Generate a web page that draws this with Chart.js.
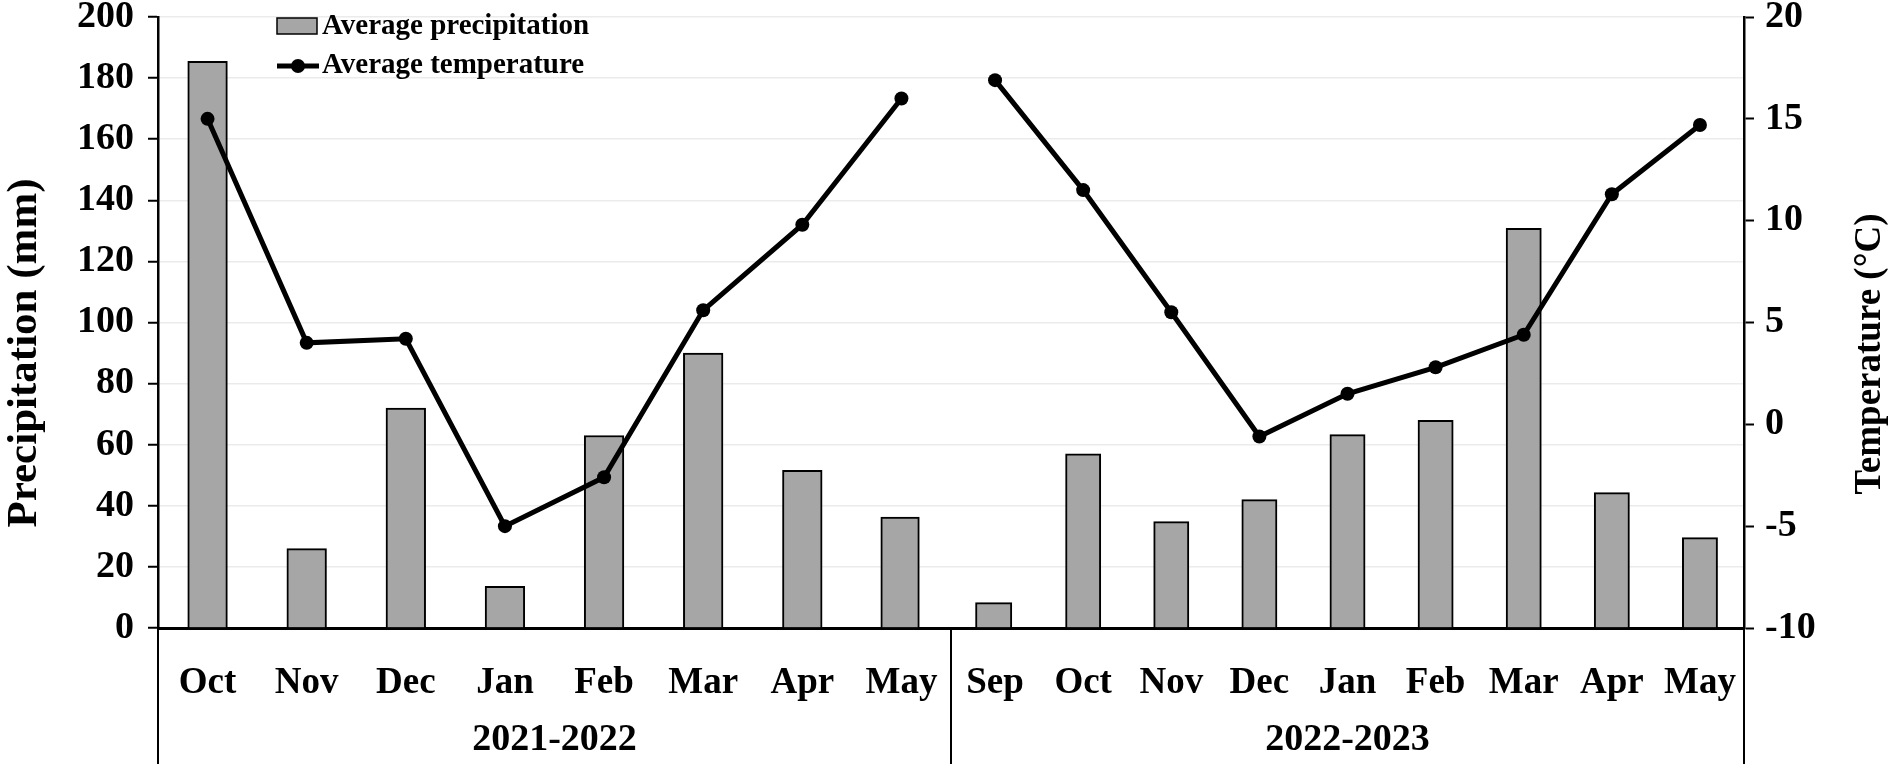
<!DOCTYPE html>
<html>
<head>
  <meta charset="utf-8">
  <script src="https://cdn.jsdelivr.net/npm/chart.js"></script>
  <style>
    html, body { margin: 0; padding: 0; background: #ffffff; overflow: hidden; }
    #wrap { width: 1890px; height: 764px; position: relative; }
  </style>
</head>
<body>
  <div id="wrap"><canvas id="climateChart"></canvas></div>

  <script>
    // data
    const seasons = ['2021-2022', '2022-2023'];
    const months1 = ['Oct', 'Nov', 'Dec', 'Jan', 'Feb', 'Mar', 'Apr', 'May'];
    const months2 = ['Sep', 'Oct', 'Nov', 'Dec', 'Jan', 'Feb', 'Mar', 'Apr', 'May'];
    const precip1 = [185.5, 26, 72, 13.6, 63, 90, 51.6, 36.3];
    const precip2 = [8.3, 57, 34.8, 42, 63.3, 68, 130.8, 44.3, 29.6];
    const temp1 = [15.0, 4.0, 4.2, -5.0, -2.6, 5.6, 9.8, 16.0];
    const temp2 = [16.9, 11.5, 5.5, -0.6, 1.5, 2.8, 4.4, 11.3, 14.7];
    const precipTicks = [0, 20, 40, 60, 80, 100, 120, 140, 160, 180, 200];
    const tempTicks = [-10, -5, 0, 5, 10, 15, 20];

    const FONT = "'Liberation Serif', 'Times New Roman', serif";
    const groups = [months1, months2];

    // each season takes one unit of the x axis, its months spread evenly inside
    const xPos = (g, i) => g + (i + 0.5) / groups[g].length;
    const monthLabels = months1.concat(months2);
    const monthX = months1.map((m, i) => xPos(0, i)).concat(months2.map((m, i) => xPos(1, i)));

    const pts = (g, vals) => vals.map((v, i) => ({ x: xPos(g, i), y: v }));

    const extras = {
      id: 'extras',
      afterDraw(chart) {
        const ctx = chart.ctx;
        const area = chart.chartArea;
        const xs = chart.scales.x;
        const H = chart.height;
        ctx.save();

        // season separators and labels under the axis
        ctx.strokeStyle = '#000';
        ctx.lineWidth = 2;
        for (let g = 0; g <= seasons.length; g++) {
          const px = Math.round(xs.getPixelForValue(g));
          ctx.beginPath();
          ctx.moveTo(px, area.bottom);
          ctx.lineTo(px, H);
          ctx.stroke();
        }
        ctx.fillStyle = '#000';
        ctx.font = 'bold 38px ' + FONT;
        ctx.textAlign = 'center';
        ctx.textBaseline = 'middle';
        seasons.forEach((s, g) => {
          ctx.fillText(s, xs.getPixelForValue(g + 0.5), 740);
        });

        // axis titles
        ctx.save();
        ctx.font = 'bold 43px ' + FONT;
        ctx.translate(25, 353);
        ctx.rotate(-Math.PI / 2);
        ctx.fillText('Precipitation (mm)', 0, 0);
        ctx.restore();
        ctx.save();
        ctx.font = 'bold 37px ' + FONT;
        ctx.translate(1870, 354);
        ctx.rotate(-Math.PI / 2);
        ctx.fillText('Temperature (\u00B0C)', 0, 0);
        ctx.restore();

        // legend inside the plot
        const lx = area.left + 119;
        ctx.fillStyle = '#a6a6a6';
        ctx.fillRect(lx, 18, 40, 16);
        ctx.lineWidth = 1.5;
        ctx.strokeRect(lx, 18, 40, 16);
        ctx.lineWidth = 5;
        ctx.beginPath();
        ctx.moveTo(lx, 66);
        ctx.lineTo(lx + 42, 66);
        ctx.stroke();
        ctx.fillStyle = '#000';
        ctx.beginPath();
        ctx.arc(lx + 21, 66, 7, 0, Math.PI * 2);
        ctx.fill();
        ctx.font = 'bold 29px ' + FONT;
        ctx.textAlign = 'left';
        ctx.fillText('Average precipitation', lx + 45, 27);
        ctx.fillText('Average temperature', lx + 45, 66);
        ctx.restore();
      }
    };

    const tempStyle = {
      type: 'line',
      yAxisID: 'y2',
      borderColor: '#000',
      borderWidth: 5,
      pointRadius: 7,
      pointBackgroundColor: '#000',
      pointBorderWidth: 0,
      tension: 0,
      order: 0
    };

    const ctx = document.getElementById('climateChart').getContext('2d');
    new Chart(ctx, {
      data: {
        datasets: [
          Object.assign({ label: 'Average temperature', data: pts(0, temp1) }, tempStyle),
          Object.assign({ label: 'Average temperature (2022-2023)', data: pts(1, temp2) }, tempStyle),
          {
            type: 'bar',
            label: 'Average precipitation',
            data: pts(0, precip1).concat(pts(1, precip2)),
            yAxisID: 'y',
            backgroundColor: '#a6a6a6',
            borderColor: '#000',
            borderWidth: 2,
            barThickness: 'flex',
            categoryPercentage: 1,
            barPercentage: 0.4,
            order: 1
          }
        ]
      },
      options: {
        responsive: true,
        maintainAspectRatio: false,
        animation: false,
        layout: { padding: { top: 17, bottom: 0, left: 0, right: 0 } },
        plugins: {
          legend: { display: false },
          tooltip: { enabled: false }
        },
        scales: {
          x: {
            type: 'linear',
            offset: false,
            min: 0,
            max: seasons.length,
            grid: { display: false, offset: false },
            border: { display: true, color: '#000', width: 3 },
            afterBuildTicks: (scale) => { scale.ticks = monthX.map(v => ({ value: v })); },
            afterFit: (scale) => { scale.height = 136; scale.paddingLeft = 0; scale.paddingRight = 0; },
            ticks: {
              autoSkip: false,
              maxRotation: 0,
              padding: 25,
              color: '#000',
              font: { family: FONT, size: 37, weight: 'bold' },
              callback: (v, i) => monthLabels[i]
            }
          },
          y: {
            position: 'left',
            min: precipTicks[0],
            max: precipTicks[precipTicks.length - 1],
            afterBuildTicks: (scale) => { scale.ticks = precipTicks.map(v => ({ value: v })); },
            afterFit: (scale) => { scale.width = 158; scale.paddingTop = 0; scale.paddingBottom = 0; },
            grid: { color: '#ebebeb', lineWidth: 1.5, tickColor: '#000', tickLength: 10, tickWidth: 2 },
            border: { display: true, color: '#000', width: 2.5 },
            ticks: {
              padding: 14,
              color: '#000',
              font: { family: FONT, size: 38, weight: 'bold' }
            }
          },
          y2: {
            position: 'right',
            min: tempTicks[0],
            max: tempTicks[tempTicks.length - 1],
            afterBuildTicks: (scale) => { scale.ticks = tempTicks.map(v => ({ value: v })); },
            afterFit: (scale) => { scale.width = 146; scale.paddingTop = 0; scale.paddingBottom = 0; },
            grid: { drawOnChartArea: false, tickColor: '#000', tickLength: 10, tickWidth: 2 },
            border: { display: true, color: '#000', width: 2.5 },
            ticks: {
              padding: 11,
              color: '#000',
              font: { family: FONT, size: 38, weight: 'bold' }
            }
          }
        }
      },
      plugins: [extras]
    });
  </script>
</body>
</html>
